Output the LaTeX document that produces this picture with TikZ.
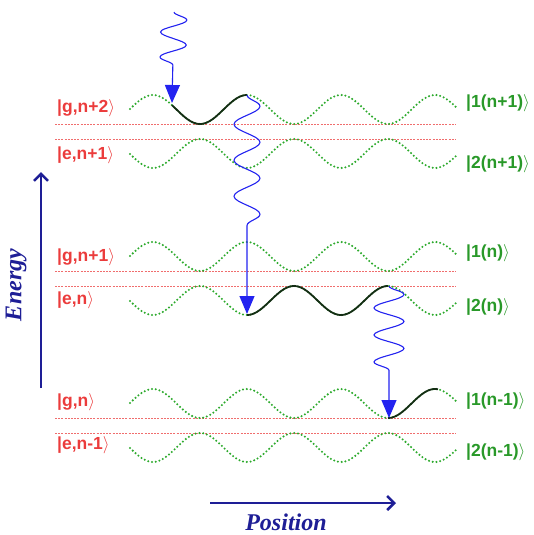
\documentclass[tikz,border=0pt]{standalone}
\usepackage{fontspec}
\setmainfont{Liberation Sans}
\newfontfamily\axisfont{Liberation Serif}
\usetikzlibrary{decorations.pathmorphing,arrows.meta}
\definecolor{lvlred}{RGB}{235,60,60}
\definecolor{lvlgreen}{RGB}{45,170,45}
\definecolor{axisblue}{RGB}{30,30,150}
\definecolor{photonblue}{RGB}{35,35,240}
\definecolor{pathblack}{RGB}{20,45,20}
\tikzset{
  greencurve/.style={lvlgreen, line width=2.3pt, line cap=round, dash pattern=on 0pt off 3.8pt},
  redline/.style={lvlred!75!white, line width=0.8pt, dash pattern=on 2pt off 1.2pt},
  blackcurve/.style={pathblack, line width=1.8pt},
  photon/.style={photonblue, line width=1.1pt, decorate,
     -{Triangle[length=18pt,width=15pt]}},
  axisarrow/.style={axisblue, line width=2.5pt, -{Straight Barb[length=7pt,width=14pt,line width=2.5pt]}},
  leftlbl/.style={text=lvlred, font=\bfseries\fontsize{17.5}{17.5}\selectfont, anchor=west, inner sep=0pt},
  rightlbl/.style={text=lvlgreen!90!black, font=\bfseries\fontsize{17.5}{17.5}\selectfont, anchor=west, inner sep=0pt},
  axislbl/.style={text=axisblue, font=\axisfont\bfseries\itshape\fontsize{24}{24}\selectfont, inner sep=0pt}
}
\newcommand{\ket}[1]{|#1$\rangle$}
\begin{document}
\begin{tikzpicture}[x=1pt,y=-1pt]
\useasboundingbox (0,0) rectangle (534,535);
% red dashed levels and green dotted curves
\foreach \k in {0,1,2}{
  \draw[redline] (55,{124+147*\k}) -- (456,{124+147*\k});
  \draw[redline] (55,{139+147*\k}) -- (456,{139+147*\k});
  \draw[greencurve] plot[domain=130:458, samples=140, smooth] (\x,{109.5+147*\k-14.5*cos(3.82979*(\x-153))});
  \draw[greencurve] plot[domain=130:458, samples=140, smooth] (\x,{153.5+147*\k+14.5*cos(3.82979*(\x-153))});
}
% black paths
\draw[blackcurve] plot[domain=172:247, samples=50, smooth] (\x,{109.5-14.5*cos(3.82979*(\x-153))});
\draw[blackcurve] plot[domain=247:388, samples=80, smooth] (\x,{300.5+14.5*cos(3.82979*(\x-153))});
\draw[blackcurve] plot[domain=388:438, samples=40, smooth] (\x,{403.5-14.5*cos(3.82979*(\x-153))});
% photon coordinates
\coordinate (p1s) at (174,12);
\coordinate (p1e) at (172,103);
\coordinate (p2s) at (247,95);
\coordinate (p2e) at (247,314);
\coordinate (p3s) at (389,286);
\coordinate (p3e) at (389,418);
\draw[photon, decoration={snake, amplitude=13pt, segment length=25pt, post length=33pt}] (p1s) -- (p1e);
\draw[photon, decoration={snake, amplitude=13pt, segment length=36pt, post length=74pt}] (p2s) -- (p2e);
\draw[photon, decoration={snake, amplitude=15pt, segment length=27pt, post length=41pt}] (p3s) -- (p3e);
% labels
\node[leftlbl] (g2) at (57,108) {\ket{g,n+2}};
\node[leftlbl] (e1) at (57,155) {\ket{e,n+1}};
\node[leftlbl] (g1) at (57,257) {\ket{g,n+1}};
\node[leftlbl] (e0) at (57,300) {\ket{e,n}};
\node[leftlbl] (g0) at (57,402) {\ket{g,n}};
\node[leftlbl] (em) at (57,445) {\ket{e,n-1}};
\node[rightlbl] (a1) at (466,103) {\ket{1(n+1)}};
\node[rightlbl] (a2) at (466,164) {\ket{2(n+1)}};
\node[rightlbl] (b1) at (466,253) {\ket{1(n)}};
\node[rightlbl] (b2) at (466,307) {\ket{2(n)}};
\node[rightlbl] (c1) at (466,401) {\ket{1(n-1)}};
\node[rightlbl] (c2) at (466,452) {\ket{2(n-1)}};
% axes
\coordinate (eb) at (41,388);
\coordinate (et) at (41,172);
\draw[axisarrow] (eb) -- (et);
\node[axislbl, rotate=90] (energy) at (16,285) {Energy};
\coordinate (pl) at (210,503);
\coordinate (pr) at (396,503);
\draw[axisarrow] (pl) -- (pr);
\node[axislbl] (position) at (286,522) {Position};
\end{tikzpicture}
\end{document}
